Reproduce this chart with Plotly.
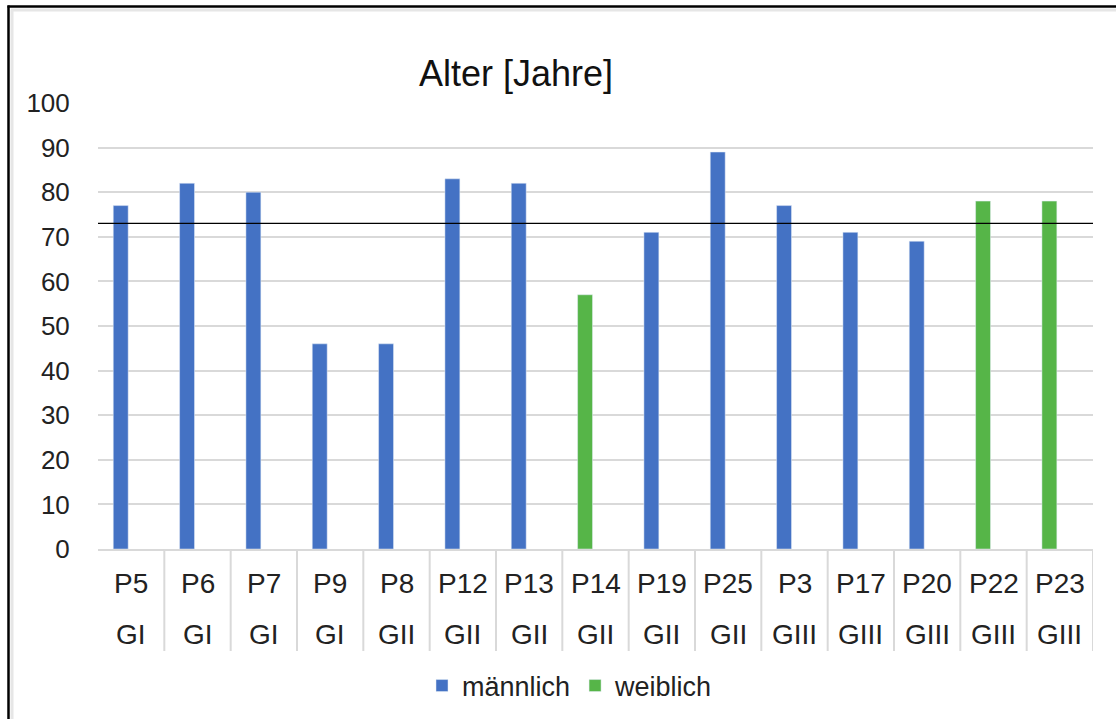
import plotly.graph_objects as go

# ---- data ----
patients = ["P5", "P6", "P7", "P9", "P8", "P12", "P13", "P14", "P19", "P25", "P3", "P17", "P20", "P22", "P23"]
groups = ["GI", "GI", "GI", "GI", "GII", "GII", "GII", "GII", "GII", "GII", "GIII", "GIII", "GIII", "GIII", "GIII"]
ages = [77, 82, 80, 46, 46, 83, 82, 57, 71, 89, 77, 71, 69, 78, 78]
sex = ["m", "m", "m", "m", "m", "m", "m", "w", "m", "m", "m", "m", "m", "w", "w"]
mean_age = 73
title_text = "Alter [Jahre]"
legend_names = {"m": "männlich", "w": "weiblich"}
y_ticks = list(range(0, 101, 10))

# ---- styling ----
BLUE = "#4472C4"
GREEN = "#56B548"
GRID = "#d9d9d9"
FONT = "Liberation Sans, Arial, sans-serif"
W, H = 1116, 719
# target plot area in screen pixels: x 98..1093, y 103..549
L = 98
R = W - 1093
T = 103
B = H - 549
PW, PH = W - L - R, H - T - B


def px_x(p):
    return (p - L) / PW


def px_y(p):
    return (H - B - p) / PH


x_idx = list(range(len(patients)))
male_vals = [a if s == "m" else None for a, s in zip(ages, sex)]
female_vals = [a if s == "w" else None for a, s in zip(ages, sex)]

fig = go.Figure()
fig.add_trace(go.Bar(x=x_idx, y=male_vals, name=legend_names["m"], marker_color=BLUE,
                     offset=-0.27, width=0.225))
fig.add_trace(go.Bar(x=x_idx, y=female_vals, name=legend_names["w"], marker_color=GREEN,
                     offset=-0.27, width=0.225))

fig.add_hline(y=mean_age, line=dict(color="black", width=1.2), layer="above")

shapes = []
# category dividers in the label area
for i in range(len(patients) + 1):
    shapes.append(dict(type="line", xref="x", yref="paper", x0=i - 0.5, x1=i - 0.5,
                       y0=0, y1=px_y(651), line=dict(color=GRID, width=2)))
# outer frame (top + left) with soft inner shadow
shapes.append(dict(type="line", xref="paper", yref="paper", x0=px_x(11), x1=px_x(1140),
                   y0=px_y(10), y1=px_y(10), line=dict(color="#e6e6e6", width=3)))
shapes.append(dict(type="line", xref="paper", yref="paper", x0=px_x(12), x1=px_x(12),
                   y0=px_y(10), y1=px_y(740), line=dict(color="#e6e6e6", width=3)))
shapes.append(dict(type="line", xref="paper", yref="paper", x0=px_x(7.5), x1=px_x(1140),
                   y0=px_y(6.5), y1=px_y(6.5), line=dict(color="black", width=2.5)))
shapes.append(dict(type="line", xref="paper", yref="paper", x0=px_x(8.5), x1=px_x(8.5),
                   y0=px_y(5.5), y1=px_y(740), line=dict(color="black", width=2.5)))

annotations = []
for i, (p, g) in enumerate(zip(patients, groups)):
    annotations.append(dict(x=i, y=px_y(583), xref="x", yref="paper", text=p, showarrow=False,
                            xanchor="center", yanchor="middle",
                            font=dict(family=FONT, size=28, color="#222222")))
    annotations.append(dict(x=i, y=px_y(634), xref="x", yref="paper", text=g, showarrow=False,
                            xanchor="center", yanchor="middle",
                            font=dict(family=FONT, size=28, color="#222222")))

fig.update_layout(
    width=W, height=H,
    margin=dict(l=L, r=R, t=T, b=B, autoexpand=False),
    paper_bgcolor="white", plot_bgcolor="white",
    barmode="overlay",
    title=dict(text=title_text, x=516 / W, xanchor="center", y=1 - 73 / H,
               yanchor="middle", font=dict(family=FONT, size=36, color="#111111")),
    font=dict(family=FONT, color="#222222"),
    xaxis=dict(range=[-0.5, len(patients) - 0.5], showticklabels=False, showgrid=False,
               zeroline=False, showline=True, linecolor=GRID, linewidth=2, ticks=""),
    yaxis=dict(range=[0, 100], tickvals=y_ticks, showgrid=True, gridcolor=GRID, gridwidth=2,
               zeroline=False, showline=False, ticks="outside", ticklen=22,
               tickcolor="rgba(0,0,0,0)", tickfont=dict(family=FONT, size=26, color="#222222")),
    legend=dict(orientation="h", x=px_x(570), xanchor="center", y=px_y(686), yanchor="middle",
                font=dict(family=FONT, size=27, color="#222222"), itemwidth=30,
                bgcolor="rgba(0,0,0,0)"),
    shapes=shapes,
    annotations=annotations,
    showlegend=True,
)

fig.write_html("out.html", config={"displayModeBar": False},
               post_script="document.body.style.margin='0px';document.body.style.overflow='hidden';")
